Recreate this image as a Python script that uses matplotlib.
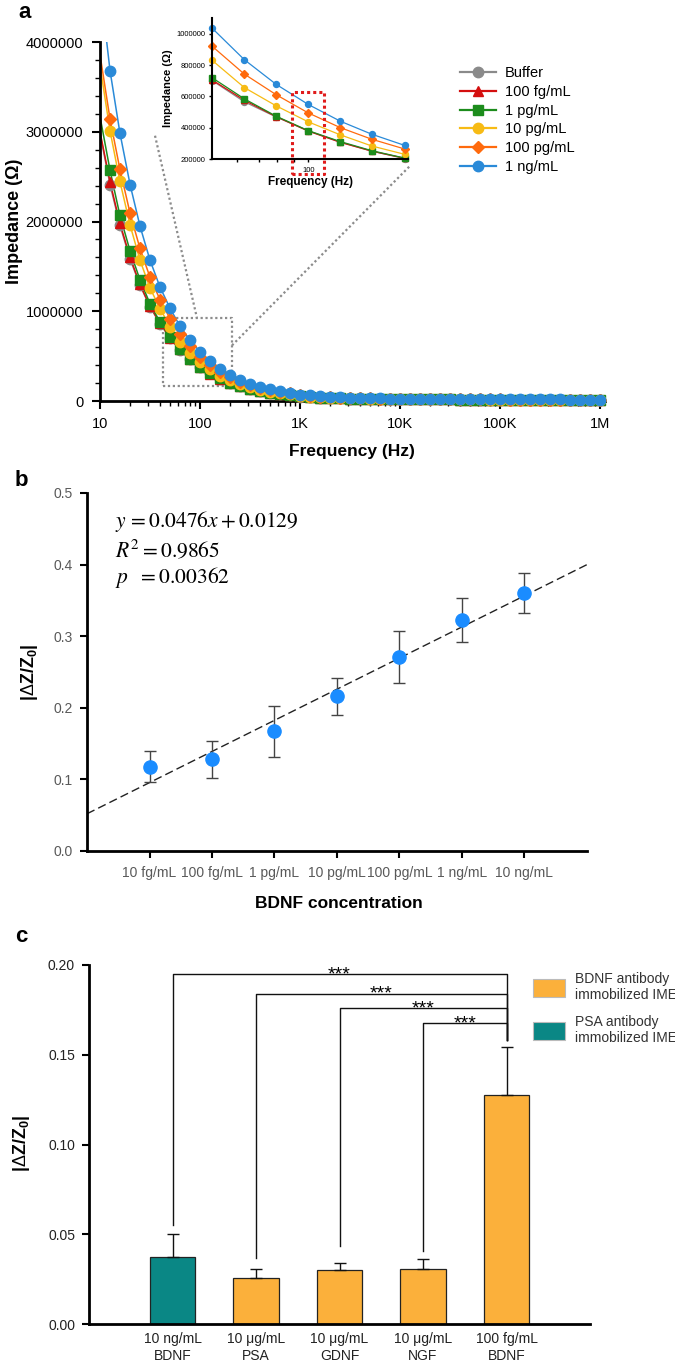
import matplotlib
matplotlib.use('Agg')
import matplotlib.pyplot as plt
import matplotlib.ticker as mticker
from matplotlib.patches import Patch
import numpy as np

# ---------------- data ----------------
# Panel a: impedance spectra (kOhm) at 10 points per decade
freq_hz = [10, 12.6, 15.8, 20.0, 25.1, 31.6, 39.8, 50.1, 63.1, 79.4,
           100, 126, 158, 200, 251, 316, 398, 501, 631, 794,
           1000, 1259, 1585, 1995, 2512, 3162, 3981, 5012, 6310, 7943,
           10000, 12589, 15849, 19953, 25119, 31623, 39811, 50119, 63096, 79433,
           100000, 125893, 158489, 199526, 251189, 316228, 398107, 501187, 630957, 794328,
           1000000]
series_labels = ['Buffer', '100 fg/mL', '1 pg/mL', '10 pg/mL', '100 pg/mL', '1 ng/mL']
buffer_k = [2980, 2410, 1960, 1580, 1290, 1050, 860, 700, 565, 468,
            380, 308, 250, 203, 166, 136, 111, 91, 75, 62,
            50, 42, 36, 32, 29, 26, 24, 23, 22, 21,
            20, 19, 18, 18, 17, 17, 16, 16, 15, 15,
            15, 14, 14, 14, 13, 13, 13, 12, 12, 12, 12]
fg100_k = [3000, 2440, 1980, 1600, 1300, 1055, 870, 704, 575, 470,
           378, 306, 250, 205, 167, 137, 112, 92, 76, 63,
           51, 43, 37, 33, 29, 27, 25, 23, 22, 21,
           20, 19, 18, 18, 17, 17, 16, 16, 16, 15,
           15, 15, 14, 14, 14, 13, 13, 13, 12, 12, 12]
pg1_k = [3170, 2570, 2070, 1670, 1350, 1085, 880, 718, 584, 473,
         381, 311, 253, 206, 169, 139, 114, 94, 78, 65,
         52, 44, 38, 33, 30, 27, 25, 23, 22, 21,
         20, 19, 18, 18, 17, 17, 16, 16, 16, 15,
         15, 15, 14, 14, 14, 13, 13, 13, 12, 12, 12]
pg10_k = [3740, 3010, 2450, 1960, 1570, 1260, 1030, 829, 656, 539,
          437, 354, 283, 230, 188, 154, 127, 105, 87, 73,
          58, 50, 43, 38, 34, 31, 28, 26, 24, 23,
          22, 21, 20, 19, 19, 18, 18, 17, 17, 16,
          16, 16, 15, 15, 15, 14, 14, 14, 13, 13, 13]
pg100_k = [3860, 3140, 2585, 2090, 1700, 1380, 1130, 919, 742, 610,
           494, 400, 326, 264, 216, 177, 146, 120, 100, 84,
           65, 56, 48, 42, 37, 34, 31, 28, 26, 24,
           23, 22, 21, 20, 20, 19, 19, 18, 18, 17,
           17, 16, 16, 16, 15, 15, 15, 14, 14, 14, 13]
ng1_k = [4650, 3680, 2990, 2410, 1950, 1570, 1270, 1034, 834, 676,
         548, 441, 358, 287, 235, 192, 158, 130, 108, 90,
         72, 62, 53, 46, 41, 37, 34, 31, 29, 27,
         25, 24, 23, 22, 22, 21, 21, 20, 20, 19,
         19, 18, 18, 18, 17, 17, 17, 16, 16, 16, 15]
series_k = [buffer_k, fg100_k, pg1_k, pg10_k, pg100_k, ng1_k]
series_colors = ['#8a8a8a', '#d40f0f', '#1c8c1c', '#f7bb14', '#ff6a0d', '#2a8ad8']
series_markers = ['o', '^', 's', 'o', 'D', 'o']
main_ticks = [10, 100, 1000, 10000, 100000, 1000000]
main_ticklabels = ['10', '100', '1K', '10K', '100K', '1M']

# zoom box (Hz, Ohm) and connector lines
zoom_box_f = [43, 209]
zoom_box_z = [170000, 930000]
conn_left_f = [35.5, 93]
conn_left_z = [2956000, 930000]
conn_right_f = [209, 12600]
conn_right_z = [620000, 2620000]
# red highlight box in inset (Hz, Ohm)
hl_box_f = [89, 112]
hl_box_z = [104000, 628000]

# Panel b
conc_labels = ['10 fg/mL', '100 fg/mL', '1 pg/mL', '10 pg/mL', '100 pg/mL', '1 ng/mL', '10 ng/mL']
dz_mean = [0.118, 0.128, 0.167, 0.216, 0.271, 0.323, 0.360]
dz_err = [0.021, 0.026, 0.036, 0.026, 0.036, 0.031, 0.028]
fit_x = [0, 8]
fit_y = [0.052, 0.400]

# Panel c
spec_labels = ['10 ng/mL\nBDNF', '10 \u03bcg/mL\nPSA', '10 \u03bcg/mL\nGDNF', '10 \u03bcg/mL\nNGF', '100 fg/mL\nBDNF']
spec_vals = [0.0375, 0.0254, 0.0300, 0.0306, 0.1275]
spec_err = [0.0125, 0.0051, 0.0038, 0.0056, 0.0270]
spec_kind = ['PSA', 'BDNF', 'BDNF', 'BDNF', 'BDNF']
bracket_from = [1, 2, 3, 4]
bracket_start = [0.055, 0.037, 0.0436, 0.0409]
bracket_top = [0.1948, 0.1840, 0.1760, 0.1675]
bracket_end = 0.158

# ---------------- style ----------------
plt.rcParams['font.family'] = ['Liberation Sans', 'DejaVu Sans']
plt.rcParams['mathtext.fontset'] = 'custom'
plt.rcParams['mathtext.rm'] = 'Liberation Sans'
plt.rcParams['mathtext.bf'] = 'Liberation Sans:bold'
plt.rcParams['mathtext.it'] = 'Liberation Sans:italic'

W, H = 675, 1365
fig = plt.figure(figsize=(W / 100, H / 100), dpi=100)


def box(l, t, r, b):
    return [l / W, 1 - b / H, (r - l) / W, (b - t) / H]


def style_axes(ax, lw=2.0):
    for s in ['top', 'right']:
        ax.spines[s].set_visible(False)
    for s in ['left', 'bottom']:
        ax.spines[s].set_linewidth(lw)
        ax.spines[s].set_color('black')


# ---------------- panel a ----------------
axA = fig.add_axes(box(100, 42, 605, 401))
style_axes(axA)
f = np.array(freq_hz)
for vals, col, mk, lab in zip(series_k, series_colors, series_markers, series_labels):
    z = np.array(vals) * 1000.0
    axA.plot(f, z, '-', color=col, lw=1.1, zorder=2)
    axA.plot(f[1:], z[1:], linestyle='none', marker=mk, ms=7.5 if mk != 'D' else 6.5, color=col,
             mec=col, clip_on=False, zorder=3)
axA.set_xscale('log')
axA.set_xlim(10, 10 ** 6.05)
axA.set_ylim(0, 4000000)
axA.xaxis.set_major_locator(mticker.FixedLocator(main_ticks))
axA.xaxis.set_major_formatter(mticker.FixedFormatter(main_ticklabels))
axA.xaxis.set_minor_locator(mticker.LogLocator(base=10, subs=np.arange(2, 10)))
axA.xaxis.set_minor_formatter(mticker.NullFormatter())
axA.yaxis.set_major_locator(mticker.MultipleLocator(1000000))
axA.yaxis.set_minor_locator(mticker.MultipleLocator(200000))
axA.yaxis.set_major_formatter(mticker.StrMethodFormatter('{x:.0f}'))
axA.tick_params(which='major', length=6, width=1.5, labelsize=10.5, pad=6)
axA.tick_params(which='minor', length=3.5, width=1.0)
axA.tick_params(axis='x', which='major', pad=5.5)

# zoom box & connectors
bx = [zoom_box_f[0], zoom_box_f[1], zoom_box_f[1], zoom_box_f[0], zoom_box_f[0]]
by = [zoom_box_z[0], zoom_box_z[0], zoom_box_z[1], zoom_box_z[1], zoom_box_z[0]]
axA.plot(bx, by, color='#8c8c8c', lw=1.6, ls=(0, (1, 1.2)), zorder=1.5)
axA.plot(conn_left_f, conn_left_z, color='#8c8c8c', lw=1.6, ls=(0, (1, 1.2)), clip_on=False, zorder=1.5)
axA.plot(conn_right_f, conn_right_z, color='#8c8c8c', lw=1.6, ls=(0, (1, 1.2)), clip_on=False, zorder=1.5)

# legend
handles = [plt.Line2D([], [], color=c, marker=m, ms=7.5 if m != 'D' else 6.5, lw=1.6, mec=c)
           for c, m in zip(series_colors, series_markers)]
fig.legend(handles, series_labels, loc='upper left', bbox_to_anchor=(460 / W, 1 - 66 / H),
           frameon=False, fontsize=10.5, borderpad=0, borderaxespad=0,
           handlelength=2.5, handletextpad=0.6, labelspacing=0.33)

fig.text(15 / W, 1 - 221 / H, 'Impedance (\u03a9)', rotation=90, ha='center', va='center',
         fontsize=13, fontweight='bold')
fig.text(352 / W, 1 - 452 / H, 'Frequency (Hz)', ha='center', va='center',
         fontsize=12.5, fontweight='bold')

# inset
axI = fig.add_axes(box(212, 18, 408, 159))
style_axes(axI, lw=1.5)
sl = slice(7, 14)
for vals, col, mk in zip(series_k, series_colors, series_markers):
    z = np.array(vals) * 1000.0
    axI.plot(f[sl], z[sl], '-', color=col, lw=0.9, marker=mk, ms=4.3, mec=col, clip_on=False)
axI.set_xscale('log')
axI.set_xlim(50, 205)
axI.set_ylim(200000, 1100000)
axI.xaxis.set_major_locator(mticker.FixedLocator([100]))
axI.xaxis.set_major_formatter(mticker.FixedFormatter(['100']))
axI.xaxis.set_minor_locator(mticker.FixedLocator([60, 70, 80, 90, 200]))
axI.xaxis.set_minor_formatter(mticker.NullFormatter())
axI.yaxis.set_major_locator(mticker.MultipleLocator(200000))
axI.yaxis.set_minor_locator(mticker.NullLocator())
axI.yaxis.set_major_formatter(mticker.StrMethodFormatter('{x:.0f}'))
axI.tick_params(which='both', length=2.5, width=1.0, labelsize=5.5, pad=2)
axI.tick_params(axis='x', which='major', pad=3)
axI.set_ylabel('Impedance (\u03a9)', fontsize=8, fontweight='bold', labelpad=3)
axI.set_xlabel('Frequency (Hz)', fontsize=8.5, fontweight='bold', labelpad=2)
hx = [hl_box_f[0], hl_box_f[1], hl_box_f[1], hl_box_f[0], hl_box_f[0]]
hy = [hl_box_z[0], hl_box_z[0], hl_box_z[1], hl_box_z[1], hl_box_z[0]]
axI.plot(hx, hy, color='#e01b1b', lw=2.2, ls=(0, (1, 1)), clip_on=False, zorder=5)

fig.text(18 / W, 1 - 13 / H, 'a', fontsize=16, fontweight='bold', ha='left', va='center')

# ---------------- panel b ----------------
axB = fig.add_axes(box(87, 493, 587, 851))
style_axes(axB)
xb = np.arange(1, len(dz_mean) + 1)
axB.plot(fit_x, fit_y, color='#222222', lw=1.0, dashes=(6, 3), zorder=1)
axB.errorbar(xb, dz_mean, yerr=dz_err, fmt='o', color='#1a8cff', ms=9.5, mec='#1a8cff',
             ecolor='#444444', elinewidth=1.0, capsize=4.5, capthick=1.0, zorder=3)
axB.set_xlim(0, 8)
axB.set_ylim(0, 0.5)
axB.set_xticks(xb)
axB.set_xticklabels(conc_labels)
axB.yaxis.set_major_locator(mticker.MultipleLocator(0.1))
axB.yaxis.set_major_formatter(mticker.StrMethodFormatter('{x:.1f}'))
axB.tick_params(length=5, width=1.5, labelsize=10, labelcolor='#595959', pad=5)
axB.tick_params(axis='x', pad=6)
eq_kw = dict(fontsize=15.5, math_fontfamily='stix', ha='left', va='center', transform=fig.transFigure)
fig.text(115 / W, 1 - 522 / H, r'$y\,=0.0476x+0.0129$', **eq_kw)
fig.text(115 / W, 1 - 551 / H, r'$R^2=0.9865$', **eq_kw)
fig.text(115 / W, 1 - 577 / H, r'$p\ \ =0.00362$', **eq_kw)
fig.text(30 / W, 1 - 672 / H, r'|$\Delta$Z/Z$_\mathbf{0}$|', rotation=90, ha='center', va='center',
         fontsize=13, fontweight='bold')
fig.text(339 / W, 1 - 903 / H, 'BDNF concentration', ha='center', va='center',
         fontsize=12.5, fontweight='bold')
fig.text(15 / W, 1 - 480 / H, 'b', fontsize=16, fontweight='bold', ha='left', va='center')

# ---------------- panel c ----------------
axC = fig.add_axes(box(89, 965, 590, 1324))
style_axes(axC)
kind_colors = {'BDNF': '#fbb03b', 'PSA': '#0a8785'}
xc = np.arange(1, len(spec_vals) + 1)
axC.bar(xc, spec_vals, width=0.55, color=[kind_colors[k] for k in spec_kind],
        edgecolor='#222222', linewidth=0.9, zorder=2)
axC.errorbar(xc, spec_vals, yerr=[[0] * len(spec_err), spec_err], fmt='none', ecolor='#111111',
             elinewidth=1.0, capsize=4, capthick=1.0, zorder=3)
for i0, ys, yt in zip(bracket_from, bracket_start, bracket_top):
    axC.plot([i0, i0, xc[-1], xc[-1]], [ys, yt, yt, bracket_end], color='#111111', lw=1.0, zorder=1)
    axC.text((i0 + xc[-1]) / 2, yt - 0.0028, '***', ha='center', va='baseline', fontsize=14)
axC.set_xlim(0, 6)
axC.set_ylim(0, 0.2)
axC.set_xticks(xc)
axC.set_xticklabels(spec_labels, linespacing=1.2)
axC.tick_params(axis='x', length=0, labelsize=10, labelcolor='#222222', pad=6)
axC.yaxis.set_major_locator(mticker.MultipleLocator(0.05))
axC.yaxis.set_major_formatter(mticker.StrMethodFormatter('{x:.2f}'))
axC.tick_params(axis='y', length=5, width=1.5, labelsize=10, labelcolor='#222222', pad=5)
leg_handles = [Patch(facecolor=kind_colors['BDNF'], edgecolor='#bbbbbb', lw=0.8),
               Patch(facecolor=kind_colors['PSA'], edgecolor='#bbbbbb', lw=0.8)]
fig.legend(leg_handles, ['BDNF antibody\nimmobilized IME', 'PSA antibody\nimmobilized IME'],
           loc='upper left', bbox_to_anchor=(533 / W, 1 - 972 / H), frameon=False, fontsize=10,
           borderpad=0, borderaxespad=0, handlelength=2.3, handleheight=1.6,
           handletextpad=0.7, labelspacing=0.9, labelcolor='#333333')
fig.text(22 / W, 1 - 1143 / H, r'|$\Delta$Z/Z$_\mathbf{0}$|', rotation=90, ha='center', va='center',
         fontsize=13, fontweight='bold')
fig.text(15 / W, 1 - 936 / H, 'c', fontsize=16, fontweight='bold', ha='left', va='center')

fig.savefig('out.png', dpi=100)
